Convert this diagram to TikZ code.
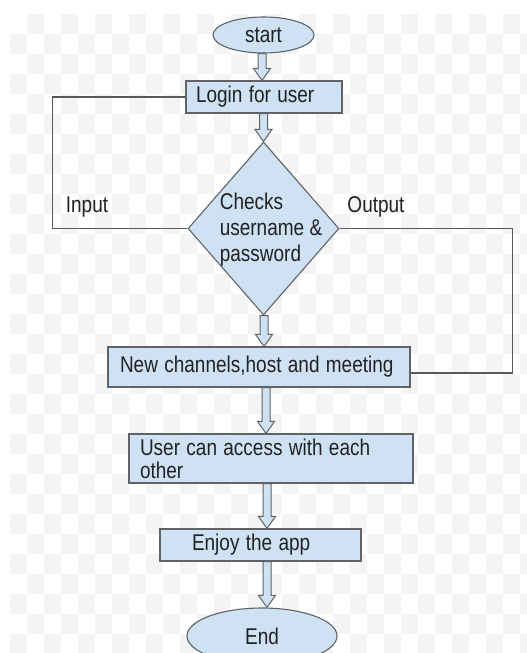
\documentclass[tikz,border=0pt]{standalone}
\usepackage{fontspec}
\setmainfont{Liberation Sans}
\usetikzlibrary{shapes.geometric,calc}
\definecolor{boxfill}{HTML}{CFE2F3}
\definecolor{boxline}{HTML}{5F6368}
\definecolor{txt}{HTML}{222222}
\definecolor{checker}{HTML}{F4F4F5}
\newcommand\vs[1]{\scalebox{1}[1.2]{#1}}
\newcommand\harrow[3]{%
  \path let \p1=(#2), \p2=(#3) in
    [arr] (#1,\y1) -- (#1+4,\y1) -- (#1+4,\y2+12) -- (#1+8.5,\y2+12) --
    (#1,\y2) -- (#1-8.5,\y2+12) -- (#1-4,\y2+12) -- (#1-4,\y1) -- cycle;}
\begin{document}
\begin{tikzpicture}[x=1pt,y=1pt,
  every node/.style={font=\fontsize{19}{23}\selectfont, text=txt},
  box/.style={draw=boxline, fill=boxfill, line width=1.1pt, rectangle,
    align=left, inner ysep=0pt},
  oval/.style={draw=boxline, fill=boxfill, line width=1.1pt, ellipse, inner sep=0pt},
  dia/.style={draw=boxline, fill=boxfill, line width=1.1pt, diamond, inner sep=0pt},
  arr/.style={draw=boxline, fill=boxfill, line width=1pt, line join=miter},
  loop/.style={draw=boxline!90!black, line width=1.3pt},
  lab/.style={inner sep=0pt}]
\clip (0,0) rectangle (527,-653);
\fill[white] (0,0) rectangle (527,-653);
\foreach \i in {0,...,30}{
  \foreach \j in {0,...,32}{
    \pgfmathtruncatemacro\pp{mod(\i+\j,2)}
    \ifnum\pp=1
      \fill[checker] (10+17*\i,-14-20*\j) rectangle ++(17,-20);
    \fi}}
% nodes
\node[oval, minimum width=101pt, minimum height=36pt] (start) at (263.5,-35) {\vs{start}};
\node[box, minimum width=156pt, minimum height=32pt, text width=136pt, inner xsep=10pt] (login) at (264,-97) {\vs{Login for user}};
\node[dia, minimum width=151pt, minimum height=173pt] (chk) at (263.5,-228.5) {};
\node[lab, align=left, font=\fontsize{19}{26}\selectfont] (chktxt) at (271,-230) {\vs{Checks}\\\vs{username \&}\\\vs{password}};
\node[box, minimum width=302pt, minimum height=40pt, text width=278pt, inner xsep=12pt] (new) at (259,-367) {\vs{New channels,host and meeting}};
\node[box, minimum width=284pt, minimum height=49pt, text width=262pt, inner xsep=11pt] (user) at (271,-458.5) {\vs{User can access with each}\\\vs{other}};
\node[box, minimum width=201pt, minimum height=32pt, text width=137pt, inner xsep=32pt] (enjoy) at (260.5,-545) {\vs{Enjoy the app}};
\node[oval, minimum width=150pt, minimum height=56pt] (end) at (262,-636) {\vs{End}};
\node[lab] (inlab) at (87,-207) {\vs{Input}};
\node[lab] (outlab) at (376,-207) {\vs{Output}};
% connectors
\harrow{262}{start.south}{login.north}
\harrow{263.5}{login.south}{chk.north}
\harrow{264}{chk.south}{new.north}
\harrow{266}{new.south}{user.north}
\harrow{267}{user.south}{enjoy.north}
\harrow{267}{enjoy.south}{end.north}
\draw[loop] (chk.west) -- ++(-135,0) |- (login.west);
\draw[loop] (chk.east) -- ++(173,0) |- ([yshift=-6pt]new.east);
\end{tikzpicture}
\end{document}
